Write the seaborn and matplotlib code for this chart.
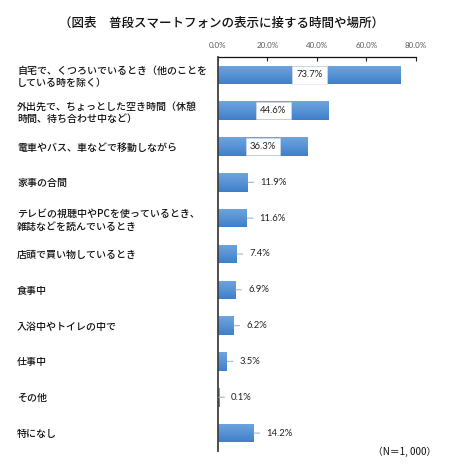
import numpy as np
import pandas as pd
import matplotlib
matplotlib.use("Agg")
import matplotlib.pyplot as plt
import matplotlib.colors as mcolors
import seaborn as sns

categories = [
    "自宅で、くつろいでいるとき（他のことを\nしている時を除く）",
    "外出先で、ちょっとした空き時間（休憩\n時間、待ち合わせ中など）",
    "電車やバス、車などで移動しながら",
    "家事の合間",
    "テレビの視聴中やPCを使っているとき、\n雑誌などを読んでいるとき",
    "店頭で買い物しているとき",
    "食事中",
    "入浴中やトイレの中で",
    "仕事中",
    "その他",
    "特になし",
]
values = [73.7, 44.6, 36.3, 11.9, 11.6, 7.4, 6.9, 6.2, 3.5, 0.1, 14.2]
xticks = [0, 20, 40, 60, 80]
xtick_labels = ["0.0%", "20.0%", "40.0%", "60.0%", "80.0%"]
title = "（図表　普段スマートフォンの表示に接する時間や場所）"
note = "（N＝1, 000）"
inside_count = 3

sns.set_theme(style="white")
plt.rcParams["font.family"] = ["Noto Sans CJK JP", "DejaVu Sans"]

df = pd.DataFrame({"category": categories, "value": values})

fig = plt.figure(figsize=(4.52, 4.71), dpi=100)
ax = fig.add_axes([218 / 452, 1 - 451 / 471, 198 / 452, (451 - 57) / 471])

sns.barplot(data=df, x="value", y="category", orient="h", color="#5592D6",
            width=0.52, ax=ax, saturation=1)

# gradient fill for bars (very small bars kept visible as a thin sliver)
cmap = mcolors.LinearSegmentedColormap.from_list("g", ["#6FA5DF", "#3F80CA"])
grad = np.linspace(0, 1, 64).reshape(-1, 1)
for p in ax.patches:
    if p.get_width() < 0.7:
        p.set_width(0.7)
    x0, y0 = p.get_x(), p.get_y()
    w, h = p.get_width(), p.get_height()
    p.set_facecolor("none")
    p.set_edgecolor("none")
    im = ax.imshow(grad, cmap=cmap, aspect="auto",
                   extent=[x0, x0 + w, y0 + h, y0], zorder=2,
                   interpolation="bilinear")
    im.set_clip_path(p)
ax.set_xlim(0, 80)
ax.set_ylim(len(categories) - 0.5, -0.5)

# axes styling
ax.xaxis.tick_top()
ax.set_xticks(xticks)
ax.set_xticklabels(xtick_labels, fontsize=5.8, color="#595959",
                   family=["Lato", "DejaVu Sans"])
ax.tick_params(axis="x", direction="in", length=3, width=0.8, color="#222222",
               pad=6, top=True, bottom=False)
ax.set_xlabel("")
ax.set_ylabel("")
ax.set_yticks(range(len(categories)))
ax.set_yticklabels(categories, fontsize=7.2, color="#111111", linespacing=1.3,
                   fontweight="medium")
ax.tick_params(axis="y", length=0, pad=201 * 0.72)
for lab in ax.get_yticklabels():
    lab.set_horizontalalignment("left")

for side in ["right", "bottom"]:
    ax.spines[side].set_visible(False)
ax.spines["top"].set_color("#111111")
ax.spines["top"].set_linewidth(0.9)
ax.spines["left"].set_color("#404040")
ax.spines["left"].set_linewidth(1.3)
ax.spines["left"].set_zorder(5)

# value labels
for i, v in enumerate(values):
    txt = f"{v:.1f}%"
    if i < inside_count:
        ax.text(v / 2, i, txt, ha="center", va="center", fontsize=6.8,
                color="#222222", family=["Lato", "DejaVu Sans"], zorder=6,
                bbox=dict(boxstyle="square,pad=0.45", facecolor="white",
                          edgecolor="#DDDDDD", linewidth=0.4))
    else:
        ax.annotate(txt, xy=(v, i), xytext=(13, 0), textcoords="offset pixels",
                    ha="left", va="center", fontsize=6.8, color="#222222",
                    family=["Lato", "DejaVu Sans"], zorder=6,
                    arrowprops=dict(arrowstyle="-", color="#A9BCD3", lw=0.9,
                                    shrinkA=2.5, shrinkB=0.5))

fig.text(222 / 452, 1 - 23 / 471, title, ha="center", va="center",
         fontsize=9, color="#111111", fontweight="medium")
fig.text(436 / 452, 1 - 452 / 471, note, ha="right", va="center",
         fontsize=7, color="#111111")

fig.savefig("out.png", dpi=100, facecolor="white")
